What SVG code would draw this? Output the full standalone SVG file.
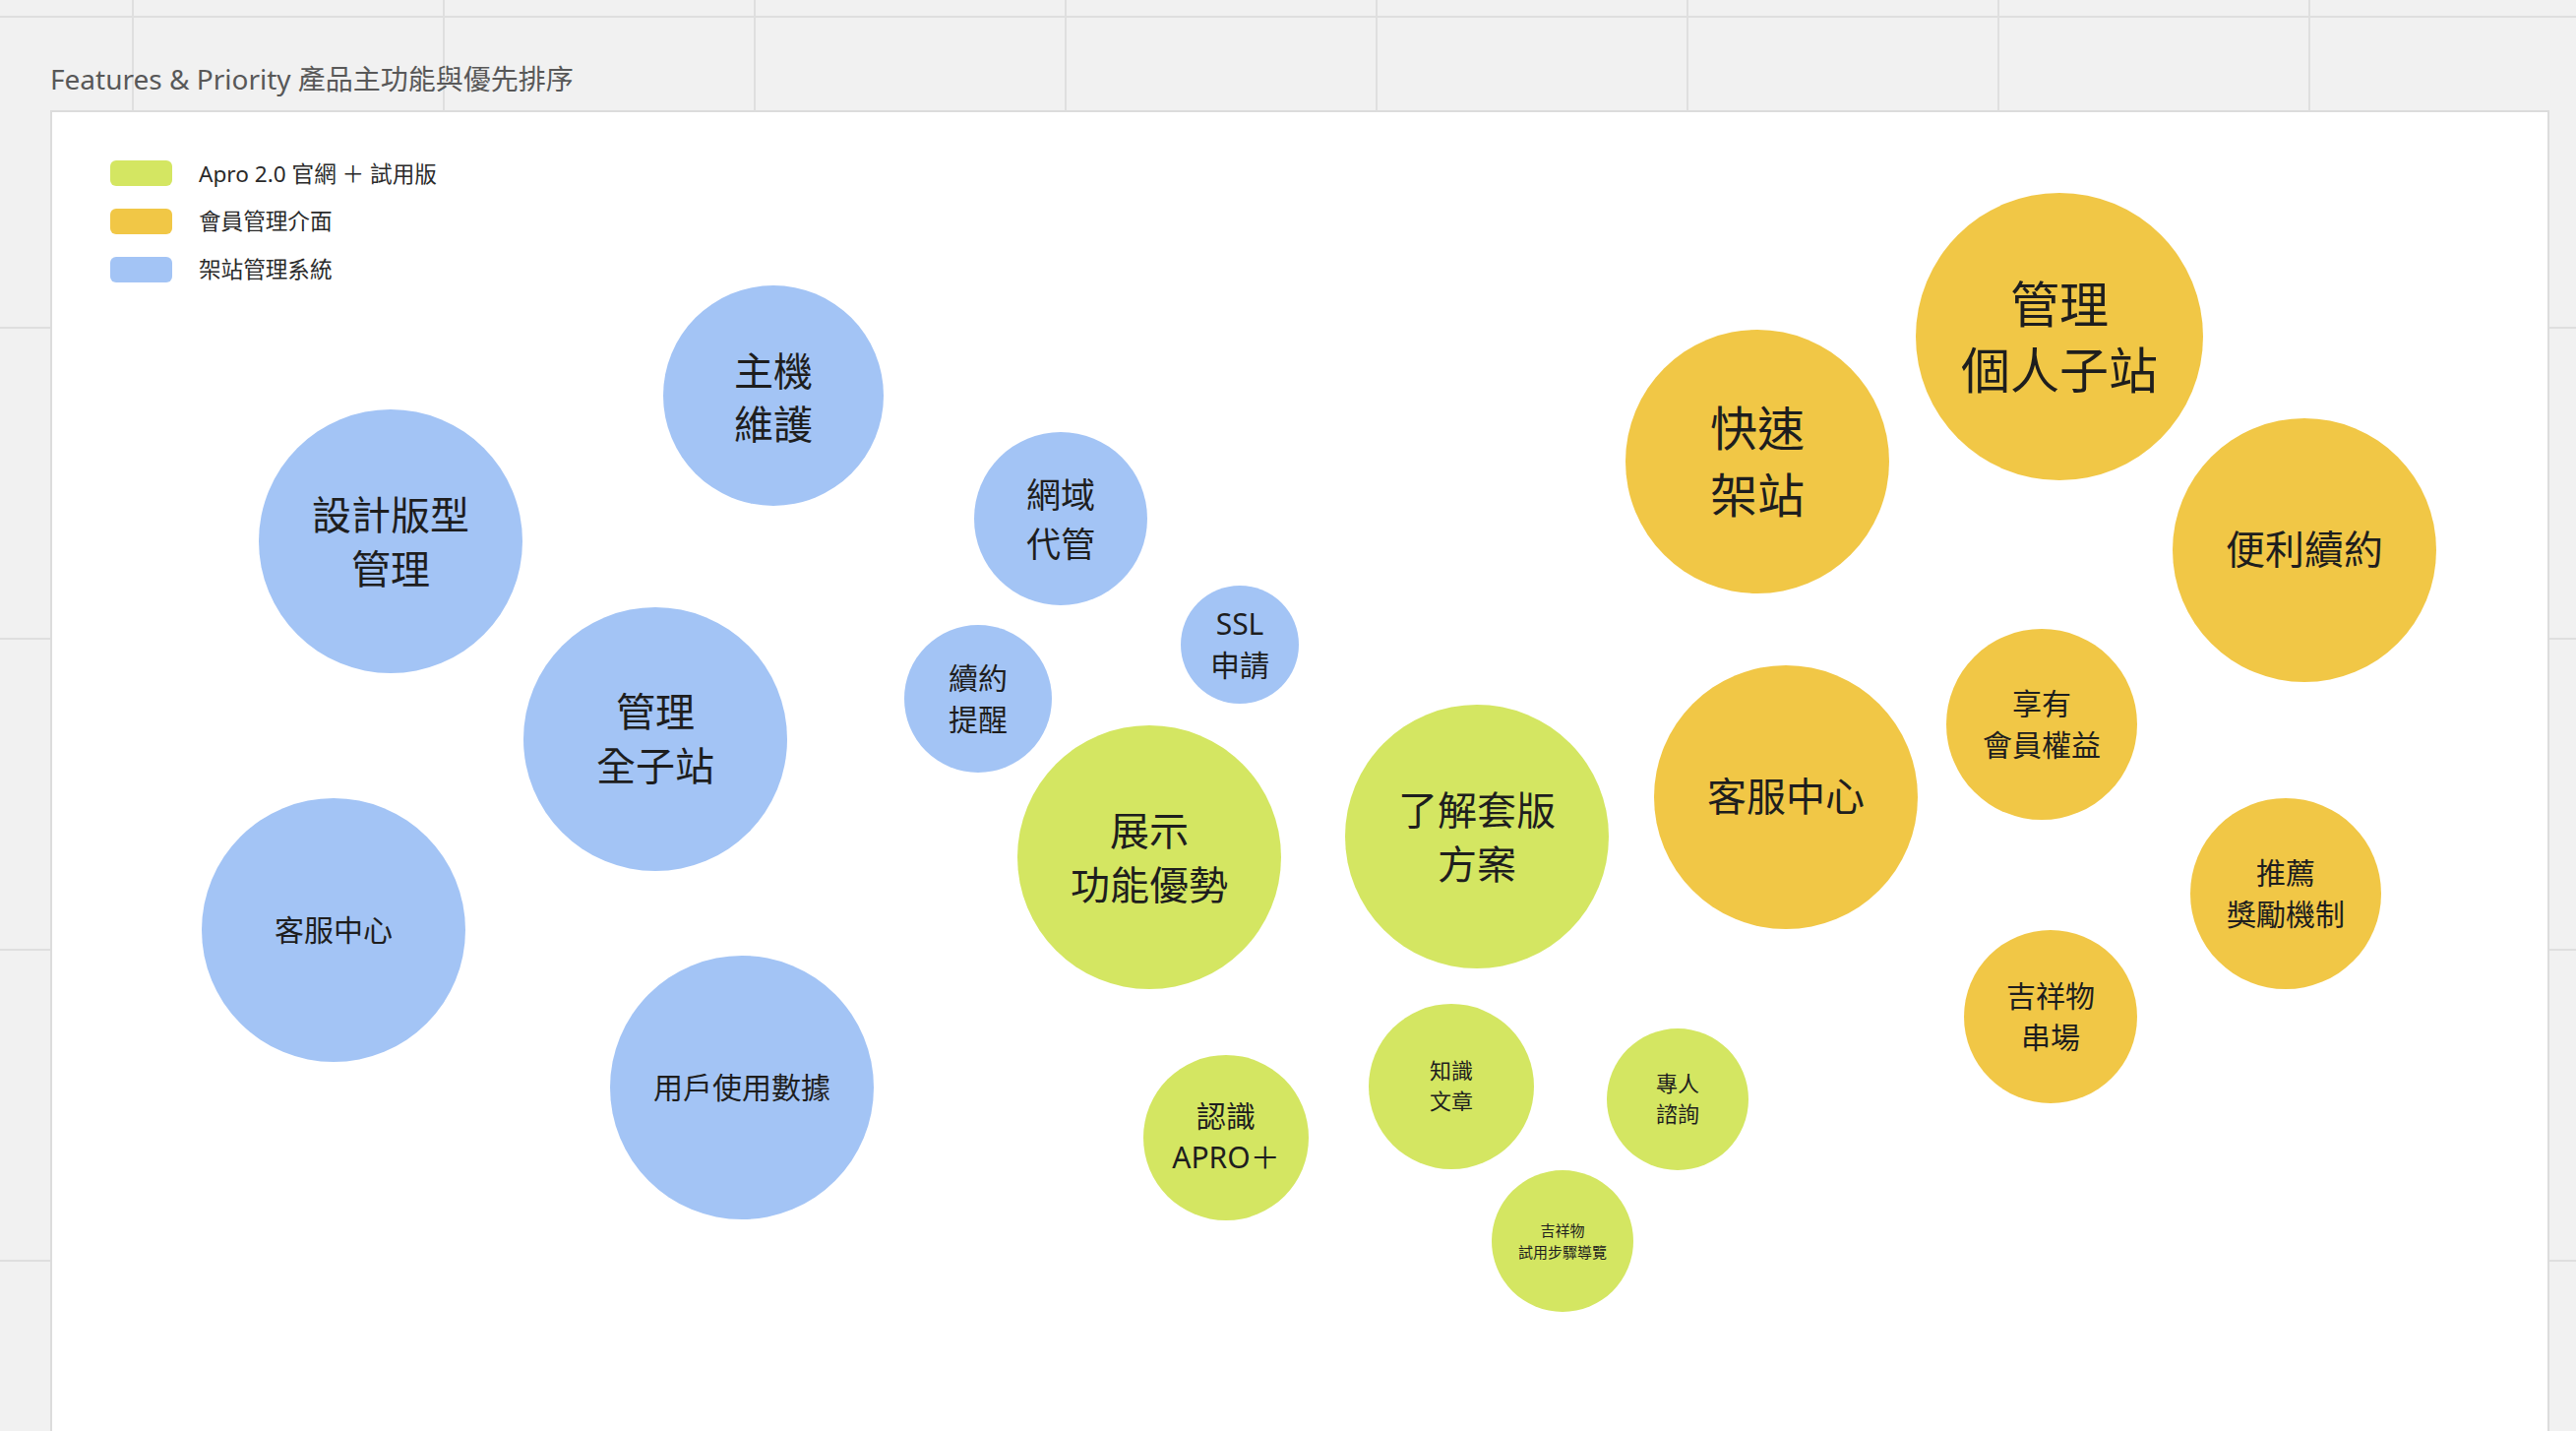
<svg xmlns="http://www.w3.org/2000/svg" width="2618" height="1454" viewBox="0 0 2618 1454">
<style>
.grid{stroke:#dfdfdf;stroke-width:2;fill:none}
.t{font-family:"Noto Sans","Noto Sans CJK TC",sans-serif;fill:#1e1e1e;text-anchor:middle}
.lg{font-family:"Noto Sans","Noto Sans CJK TC",sans-serif;fill:#2a2a2a;font-size:22.6px}
.g{fill:#d4e662}
.o{fill:#f1c746}
.b{fill:#a3c4f5}
</style>
<rect x="0" y="0" width="2618" height="1454" fill="#f1f1f1"/>
<g id="grid">
<line class="grid" x1="0" y1="17" x2="2618" y2="17"/>
<line class="grid" x1="0" y1="333" x2="2618" y2="333"/>
<line class="grid" x1="0" y1="649" x2="2618" y2="649"/>
<line class="grid" x1="0" y1="965" x2="2618" y2="965"/>
<line class="grid" x1="0" y1="1281" x2="2618" y2="1281"/>
<line class="grid" x1="135" y1="0" x2="135" y2="1454"/>
<line class="grid" x1="451" y1="0" x2="451" y2="1454"/>
<line class="grid" x1="767" y1="0" x2="767" y2="1454"/>
<line class="grid" x1="1083" y1="0" x2="1083" y2="1454"/>
<line class="grid" x1="1399" y1="0" x2="1399" y2="1454"/>
<line class="grid" x1="1715" y1="0" x2="1715" y2="1454"/>
<line class="grid" x1="2031" y1="0" x2="2031" y2="1454"/>
<line class="grid" x1="2347" y1="0" x2="2347" y2="1454"/>
</g>
<text x="51" y="91" font-family="'Noto Sans','Noto Sans CJK TC',sans-serif" font-size="28" fill="#585858">Features &amp; Priority 產品主功能與優先排序</text>
<rect id="panel" x="52" y="113" width="2538" height="1360" fill="#ffffff" stroke="#dcdcdc" stroke-width="2"/>
<g id="legend">
<rect class="g" x="112" y="163" width="63" height="26" rx="6"/>
<text class="lg" x="202" y="185">Apro 2.0 官網 ＋ 試用版</text>
<rect class="o" x="112" y="212" width="63" height="26" rx="6"/>
<text class="lg" x="202" y="233">會員管理介面</text>
<rect class="b" x="112" y="261" width="63" height="26" rx="6"/>
<text class="lg" x="202" y="282">架站管理系統</text>
</g>
<g id="connectors"></g>
<g id="n-design"><circle class="b" cx="397" cy="550" r="134"/><text class="t" font-size="40"><tspan x="397" y="538">設計版型</tspan><tspan x="397" y="593">管理</tspan></text></g>
<g id="n-host"><circle class="b" cx="786" cy="402" r="112"/><text class="t" font-size="40"><tspan x="786" y="392">主機</tspan><tspan x="786" y="446">維護</tspan></text></g>
<g id="n-domain"><circle class="b" cx="1078" cy="527" r="88"/><text class="t" font-size="35"><tspan x="1078" y="516">網域</tspan><tspan x="1078" y="566">代管</tspan></text></g>
<g id="n-ssl"><circle class="b" cx="1260" cy="655" r="60"/><text class="t" font-size="30"><tspan x="1260" y="645">SSL</tspan><tspan x="1260" y="687">申請</tspan></text></g>
<g id="n-renew-remind"><circle class="b" cx="994" cy="710" r="75"/><text class="t" font-size="30"><tspan x="994" y="700">續約</tspan><tspan x="994" y="742">提醒</tspan></text></g>
<g id="n-manage-all"><circle class="b" cx="666" cy="751" r="134"/><text class="t" font-size="40"><tspan x="666" y="738">管理</tspan><tspan x="666" y="793">全子站</tspan></text></g>
<g id="n-service-b"><circle class="b" cx="339" cy="945" r="134"/><text class="t" font-size="30"><tspan x="339" y="956">客服中心</tspan></text></g>
<g id="n-usage"><circle class="b" cx="754" cy="1105" r="134"/><text class="t" font-size="30"><tspan x="754" y="1116">用戶使用數據</tspan></text></g>
<g id="n-show"><circle class="g" cx="1168" cy="871" r="134"/><text class="t" font-size="40"><tspan x="1168" y="859">展示</tspan><tspan x="1168" y="914">功能優勢</tspan></text></g>
<g id="n-plan"><circle class="g" cx="1501" cy="850" r="134"/><text class="t" font-size="40"><tspan x="1501" y="838">了解套版</tspan><tspan x="1501" y="893">方案</tspan></text></g>
<g id="n-apro"><circle class="g" cx="1246" cy="1156" r="84"/><text class="t" font-size="30"><tspan x="1246" y="1145">認識</tspan><tspan x="1246" y="1187">APRO＋</tspan></text></g>
<g id="n-article"><circle class="g" cx="1475" cy="1104" r="84"/><text class="t" font-size="22"><tspan x="1475" y="1096">知識</tspan><tspan x="1475" y="1127">文章</tspan></text></g>
<g id="n-consult"><circle class="g" cx="1705" cy="1117" r="72"/><text class="t" font-size="22"><tspan x="1705" y="1109">專人</tspan><tspan x="1705" y="1140">諮詢</tspan></text></g>
<g id="n-mascot-guide"><circle class="g" cx="1588" cy="1261" r="72"/><text class="t" font-size="15"><tspan x="1588" y="1256">吉祥物</tspan><tspan x="1588" y="1278">試用步驟導覽</tspan></text></g>
<g id="n-quick"><circle class="o" cx="1786" cy="469" r="134"/><text class="t" font-size="48"><tspan x="1786" y="453">快速</tspan><tspan x="1786" y="521">架站</tspan></text></g>
<g id="n-personal"><circle class="o" cx="2093" cy="342" r="146"/><text class="t" font-size="50"><tspan x="2093" y="328">管理</tspan><tspan x="2093" y="395">個人子站</tspan></text></g>
<g id="n-renew"><circle class="o" cx="2342" cy="559" r="134"/><text class="t" font-size="40"><tspan x="2342" y="573">便利續約</tspan></text></g>
<g id="n-service-o"><circle class="o" cx="1815" cy="810" r="134"/><text class="t" font-size="40"><tspan x="1815" y="824">客服中心</tspan></text></g>
<g id="n-benefit"><circle class="o" cx="2075" cy="736" r="97"/><text class="t" font-size="30"><tspan x="2075" y="726">享有</tspan><tspan x="2075" y="768">會員權益</tspan></text></g>
<g id="n-referral"><circle class="o" cx="2323" cy="908" r="97"/><text class="t" font-size="30"><tspan x="2323" y="898">推薦</tspan><tspan x="2323" y="940">獎勵機制</tspan></text></g>
<g id="n-mascot"><circle class="o" cx="2084" cy="1033" r="88"/><text class="t" font-size="30"><tspan x="2084" y="1023">吉祥物</tspan><tspan x="2084" y="1065">串場</tspan></text></g>
</svg>
